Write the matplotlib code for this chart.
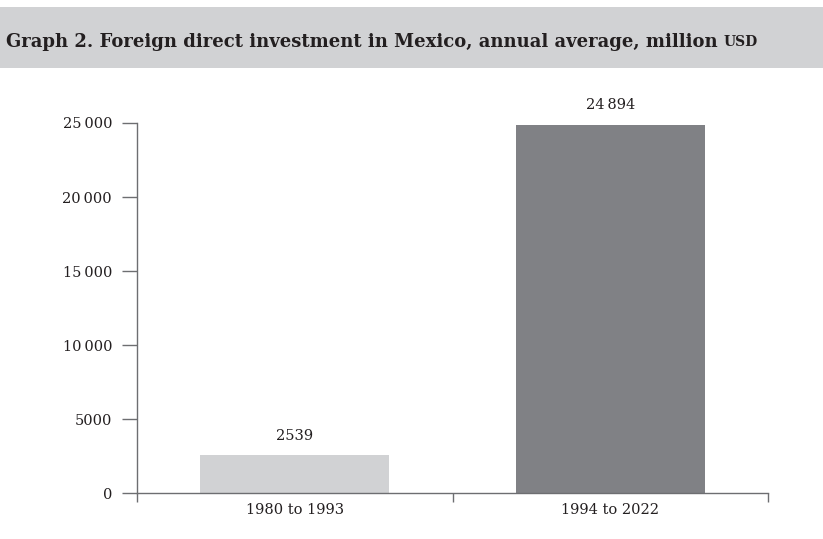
#!/usr/bin/env python

import matplotlib
matplotlib.use("Agg")
import matplotlib.pyplot as plt
from matplotlib.patches import Rectangle
from matplotlib.ticker import FuncFormatter

# data
periods = ["1980 to 1993", "1994 to 2022"]
fdi_avg = [2539, 24894]
bar_colors = ["#d1d2d4", "#808185"]
yticks = [0, 5000, 10000, 15000, 20000, 25000]

text_color = "#231f20"
axis_color = "#6d6e71"
plt.rcParams["font.family"] = ["DejaVu Serif"]


def fmt_num(v, pos=None):
    v = int(round(v))
    if v >= 10000:
        return "{:,}".format(v).replace(",", "\u2009")
    return str(v)


fig = plt.figure(figsize=(8.23, 5.39), dpi=100)

# title band
fig.patches.append(Rectangle((0, 0.874), 1, 0.113, transform=fig.transFigure,
                             facecolor="#d1d2d4", edgecolor="none", zorder=0))
t = fig.text(0.007, 0.923, "Graph 2. Foreign direct investment in Mexico, annual average, million ",
             fontsize=13, fontweight="bold", color=text_color, va="center", ha="left")

ax = fig.add_axes([0.1665, 0.0853, 0.7667, 0.6865])
x = list(range(len(periods)))
ax.bar(x, fdi_avg, width=0.6, color=bar_colors, zorder=2)

for xi, v in zip(x, fdi_avg):
    ax.annotate(fmt_num(v), xy=(xi, v), xytext=(0, 9), textcoords="offset points",
                ha="center", va="bottom", fontsize=10.5, color=text_color)

ax.set_xlim(-0.5, 1.5)
ax.set_ylim(0, 25000)
ax.set_yticks(yticks)
ax.yaxis.set_major_formatter(FuncFormatter(fmt_num))

ax.set_xticks([-0.5, 0.5, 1.5])
ax.set_xticklabels(["", "", ""])
ax.set_xticks(x, minor=True)
ax.set_xticklabels(periods, minor=True)

for s in ["top", "right"]:
    ax.spines[s].set_visible(False)
for s in ["left", "bottom"]:
    ax.spines[s].set_color(axis_color)
    ax.spines[s].set_linewidth(1.0)

ax.tick_params(axis="y", direction="out", length=11, width=1.0, color=axis_color,
               pad=7, labelsize=10.5, labelcolor=text_color)
ax.tick_params(axis="x", which="major", direction="out", length=6.5, width=1.0,
               color=axis_color)
ax.tick_params(axis="x", which="minor", length=0, pad=7, labelsize=10.5,
               labelcolor=text_color)

# small-caps style "USD" right after the title text
fig.canvas.draw()
bb = t.get_window_extent().transformed(fig.transFigure.inverted())
fig.text(bb.x1, 0.923, "USD", fontsize=10, fontweight="bold", color=text_color,
         va="center", ha="left")

fig.savefig("out.png", dpi=100)
